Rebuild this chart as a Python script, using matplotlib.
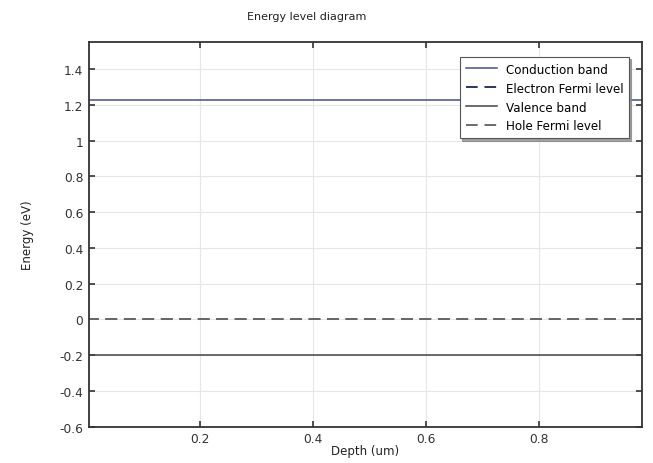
import matplotlib.pyplot as plt
from matplotlib.ticker import FuncFormatter

depth = [0.0, 1.0]
conduction_band = [1.224, 1.224]
electron_fermi = [0.0, 0.0]
valence_band = [-0.2, -0.2]
hole_fermi = [0.0, 0.0]

x_ticks = [0.2, 0.4, 0.6, 0.8]
y_ticks = [-0.6, -0.4, -0.2, 0, 0.2, 0.4, 0.6, 0.8, 1, 1.2, 1.4]

plt.rcParams['font.family'] = ['DejaVu Sans']

fig = plt.figure(figsize=(6.53, 4.64), dpi=100)
ax = fig.add_axes([0.136, 0.078, 0.847, 0.829])

ax.plot(depth, conduction_band, color="#44508a", lw=1.1, label="Conduction band")
ax.plot(depth, electron_fermi, color="#2c3560", lw=1.4, ls=(0, (6, 3.5)), label="Electron Fermi level")
ax.plot(depth, valence_band, color="#444444", lw=1.1, label="Valence band")
ax.plot(depth, hole_fermi, color="#6a6a6a", lw=1.4, ls=(0, (6, 3.5)), label="Hole Fermi level")

ax.set_xlim(0.004, 0.982)
ax.set_ylim(-0.6, 1.55)
ax.set_xticks(x_ticks)
ax.set_yticks(y_ticks)
ax.yaxis.set_major_formatter(FuncFormatter(lambda v, p: "%g" % round(v, 2) if abs(v) > 1e-9 else "0"))
ax.grid(True, color="#e6e6e6", lw=0.8)
ax.set_axisbelow(True)

ax.tick_params(direction="in", top=True, right=True, length=4, width=1.2,
               labelsize=8.8, colors="#333333", pad=4)
for s in ax.spines.values():
    s.set_linewidth(1.3)
    s.set_color("#333333")

ax.set_xlabel("Depth (um)", fontsize=8.5, labelpad=-1, color="#222222")
ax.set_ylabel("Energy (eV)", fontsize=8.5, labelpad=18, color="#222222")
fig.text(0.469, 0.964, "Energy level diagram", ha="center", va="center", fontsize=8, color="#222222")

leg = ax.legend(loc="upper right", bbox_to_anchor=(0.988, 0.978), fontsize=8.6,
                frameon=True, fancybox=False,
                shadow={'ox': 1.5, 'oy': -1.5, 'color': '#888888', 'alpha': 0.8},
                handlelength=2.6, borderpad=0.5, labelspacing=0.5, handletextpad=0.7)
leg.get_frame().set_edgecolor("#555555")
leg.get_frame().set_linewidth(0.8)

fig.savefig("out.png", dpi=100)
